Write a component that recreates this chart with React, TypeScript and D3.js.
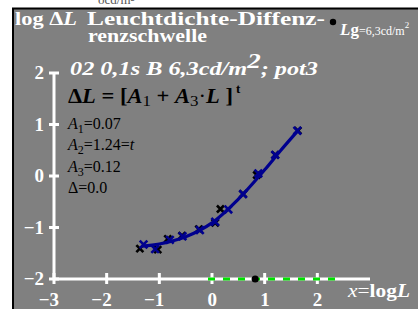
import * as d3 from 'd3'

// axis ticks
const xTicks = [-3, -2, -1, 0, 1, 2]
const yTicks = [-2, -1, 0, 1, 2]

// measured thresholds (black crosses)
const measX = [-1.37, -1.03, -0.84, -0.57, -0.25, 0.06, 0.16, 0.59, 0.85, 1.2, 1.63]
const measY = [-1.41, -1.43, -1.22, -1.16, -1.03, -0.91, -0.64, -0.35, 0.02, 0.41, 0.88]

// model values (blue crosses)
const fitX = [-1.3, -1.08, -0.8, -0.56, -0.23, 0.06, 0.31, 0.59, 0.88, 1.2, 1.62]
const fitY = [-1.33, -1.42, -1.24, -1.17, -1.05, -0.89, -0.65, -0.35, 0.05, 0.41, 0.88]

// fitted curve
const curveX = [-1.32, -1.0, -0.5, 0, 0.5, 1.0, 1.3, 1.64]
const curveY = [-1.36, -1.32, -1.18, -0.91, -0.45, 0.12, 0.49, 0.89]

// adaptation luminance on the x axis, green range
const adaptLogL = 0.82
const rangeLogL = [0, 2.34]

// parameter block
const paramNames = ['A', 'A', 'A', 'Δ']
const paramSubs = ['1', '2', '3', '']
const paramValues = ['=0.07', '=1.24=', '=0.12', '=0.0']

const serif = "'Liberation Serif','Times New Roman',serif"

export default function App() {
  const W = 418
  const H = 309
  const x = d3.scaleLinear().domain([-3, 3]).range([54, 370])
  const y = d3.scaleLinear().domain([-2, 2]).range([279, 73])

  const curve = d3.line<number>()
    .x((d, i) => x(curveX[i]))
    .y(d => y(d))
    .curve(d3.curveCatmullRom)

  const cross = (cx: number, cy: number, r: number) =>
    `M${cx - r},${cy - r}L${cx + r},${cy + r}M${cx - r},${cy + r}L${cx + r},${cy - r}`

  const fmt = (v: number) => (v < 0 ? '\u2212' + Math.abs(v) : String(v))
  const blue = '#00008e'

  return (
    <>
      <style>{`html,body{margin:0;padding:0;overflow:hidden;height:${H}px;scrollbar-width:none}
        ::-webkit-scrollbar{display:none;width:0;height:0}`}</style>
      <svg width={W} height={H} fontFamily={serif}
        style={{ display: 'block', position: 'fixed', left: 0, top: 0 }}>
        <rect width={W} height={H} fill="#fff" />
        {/* cut-off line above the frame */}
        <text x={98} y={4} fontSize={13} fill="#555">ocd/m²</text>

        <rect x={13} y={8} width={W - 13} height={H - 8} fill="#808080" />
        <line x1={13} x2={13} y1={8} y2={H} stroke="#000" strokeWidth={2} />
        <line x1={12} x2={W} y1={8.5} y2={8.5} stroke="#000" strokeWidth={2} />

        {/* header */}
        <text x={15} y={25} fontSize={19} fontWeight="bold" fill="#fff" textLength={62} lengthAdjust="spacingAndGlyphs">
          log Δ<tspan fontStyle="italic">L</tspan>
        </text>
        <text x={87} y={25} fontSize={19} fontWeight="bold" fill="#fff" textLength={238} lengthAdjust="spacingAndGlyphs">
          Leuchtdichte-Diffenz-
        </text>
        <text x={88} y={42} fontSize={19} fontWeight="bold" fill="#fff" textLength={119} lengthAdjust="spacingAndGlyphs">
          renzschwelle
        </text>
        <circle cx={333} cy={22} r={3.2} fill="#000" />
        <text x={340} y={35} fill="#fff" fontSize={12}>
          <tspan fontSize={17} fontWeight="bold" fontStyle="italic">L</tspan>
          <tspan fontSize={17} fontWeight="bold">g</tspan>=6,3cd/m<tspan fontSize={9} dy={-7}>2</tspan>
        </text>

        <text x={70} y={75} fontSize={18} fontWeight="bold" fontStyle="italic" fill="#fff" textLength={248} lengthAdjust="spacingAndGlyphs">
          02 0,1s B 6,3cd/m<tspan fontSize={20} dy={-7}>2</tspan><tspan dy={7}>; pot3</tspan>
        </text>

        {/* model formula */}
        <text x={68} y={103} fontSize={20} fontWeight="bold" fill="#000" textLength={165} lengthAdjust="spacingAndGlyphs">
          Δ<tspan fontStyle="italic">L</tspan> = [<tspan fontStyle="italic">A</tspan>
          <tspan fontSize={15} fontWeight="normal" dy={3}>1</tspan>
          <tspan dy={-3}> + </tspan><tspan fontStyle="italic">A</tspan>
          <tspan fontSize={15} fontWeight="normal" dy={3}>3</tspan>
          <tspan dy={-3} fontWeight="normal">·</tspan>
          <tspan fontStyle="italic">L</tspan> ]
        </text>
        <text x={236} y={93} fontSize={13} fontWeight="bold" fill="#000">t</text>

        {paramNames.map((n, i) => (
          <text key={i} x={68} y={129 + i * 21.3} fontSize={16} fill="#000">
            <tspan fontStyle={n === 'A' ? 'italic' : 'normal'}>{n}</tspan>
            {paramSubs[i] && <tspan fontSize={12} dy={4}>{paramSubs[i]}</tspan>}
            <tspan dy={paramSubs[i] ? -4 : 0}>{paramValues[i]}</tspan>
            {i === 1 && <tspan fontStyle="italic">t</tspan>}
          </text>
        ))}

        {/* axes */}
        <line x1={x(-3)} x2={x(-3)} y1={y(-2)} y2={y(2) - 1} stroke="#fff" strokeWidth={3} />
        <line x1={x(-3) - 1} x2={x(3)} y1={y(-2)} y2={y(-2)} stroke="#fff" strokeWidth={3} />
        {yTicks.map(t => (
          <g key={'y' + t}>
            <line x1={x(-3) - 5} x2={x(-3) + 5} y1={y(t)} y2={y(t)} stroke="#fff" strokeWidth={3} />
            <text x={44} y={y(t) + 6} textAnchor="end" fontSize={19} fontWeight="bold" fill="#fff">{fmt(t)}</text>
          </g>
        ))}
        {xTicks.map(t => (
          <g key={'x' + t}>
            <line x1={x(t)} x2={x(t)} y1={y(-2) - 6} y2={y(-2) + 5} stroke="#fff" strokeWidth={3} />
            <text x={x(t) + 5} y={306} textAnchor="end" fontSize={19} fontWeight="bold" fill="#fff">{fmt(t)}</text>
          </g>
        ))}
        <line x1={x(rangeLogL[0]) - 4} x2={x(rangeLogL[1])} y1={y(-2)} y2={y(-2)}
          stroke="#00e000" strokeWidth={3} strokeDasharray="7,8" />
        <circle cx={x(adaptLogL)} cy={y(-2)} r={3.6} fill="#000" />
        <text x={348} y={297} fontSize={19} fill="#fff" textLength={62} lengthAdjust="spacingAndGlyphs">
          <tspan fontStyle="italic">x</tspan>=<tspan fontWeight="bold">log</tspan>
          <tspan fontWeight="bold" fontStyle="italic">L</tspan>
        </text>

        {/* data */}
        {measX.map((v, i) => (
          <path key={'m' + i} d={cross(x(v), y(measY[i]), 3.5)} stroke="#000" strokeWidth={2.6} />
        ))}
        <path d={curve(curveY) || ''} fill="none" stroke={blue} strokeWidth={3.2} />
        {fitX.map((v, i) => (
          <path key={'f' + i} d={cross(x(v), y(fitY[i]), 3.8)} stroke={blue} strokeWidth={2.6} />
        ))}
      </svg>
    </>
  )
}
